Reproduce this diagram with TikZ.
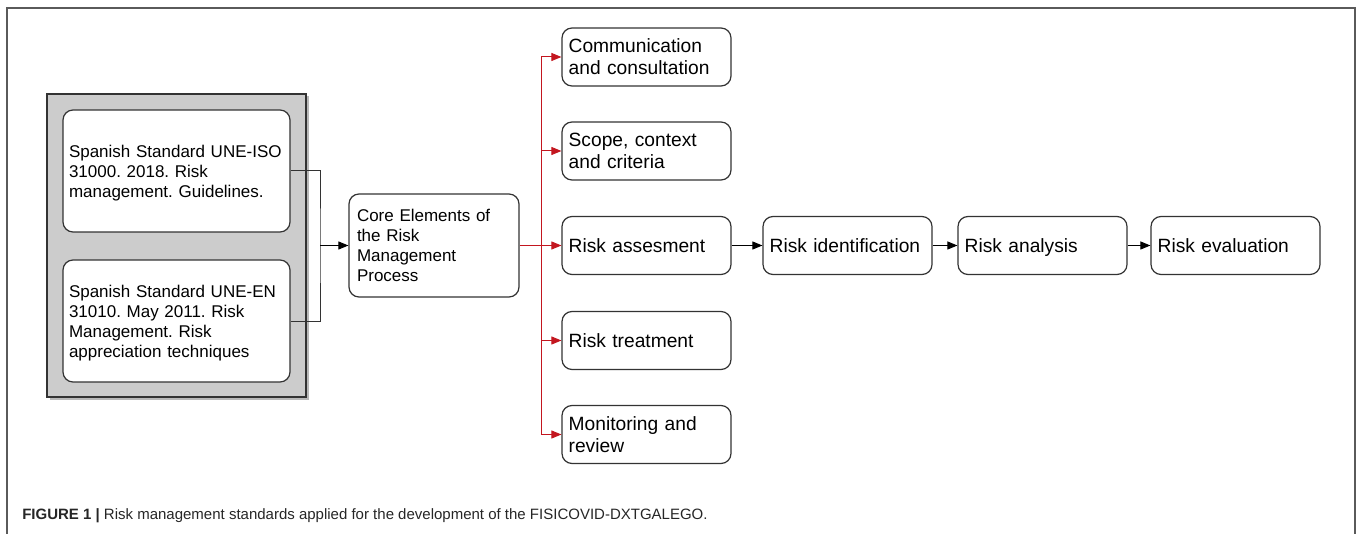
\documentclass[tikz,border=0pt]{standalone}
\usepackage{fontspec}
\setmainfont{Liberation Sans}
\usetikzlibrary{arrows.meta}
\frenchspacing
\definecolor{boxline}{HTML}{333333}
\definecolor{arrred}{HTML}{C3161F}
\definecolor{panelgray}{HTML}{CCCCCC}
\definecolor{framegray}{HTML}{5A5A5A}
\newcommand{\topstrut}{\vrule width 0pt height \dimexpr 0.716em+0.3\baselineskip\relax depth 0pt}
\newcommand{\botstrut}{\vrule width 0pt height 0pt depth 0.3\baselineskip}
\tikzset{
  stdbox/.style={draw=boxline, line width=0.9pt, fill=white, rounded corners=7.5pt,
    align=left, inner xsep=4.5pt, inner ysep=2pt, text width=161.25pt, minimum height=91.5pt,
    execute at begin node=\topstrut, execute at end node=\botstrut,
    font=\fontsize{12.75pt}{15pt}\selectfont},
  corebox/.style={stdbox, inner xsep=6pt, text width=115.5pt, minimum height=77.25pt},
  stepbox/.style={stdbox, inner xsep=5pt, text width=116.75pt, minimum height=43.5pt,
    font=\fontsize{14.4pt}{16.5pt}\selectfont},
  arr/.style={-{Triangle[length=7.5pt,width=6pt]}, line width=0.75pt, draw=black},
  redarr/.style={arr, draw=arrred}
}
\begin{document}
\begin{tikzpicture}[x=0.75pt, y=-0.75pt]
        \useasboundingbox (0,0) rectangle (1358,534);
        \draw[framegray, line width=1.1pt] (7,534) -- (7,8) -- (1355,8) -- (1355,534);

        \fill[gray!55] (49.5,96.5) rectangle (308.5,399.5);
        \draw[fill=panelgray, draw=boxline, line width=0.9pt] (47,94) rectangle (306,397);

        \node[stdbox] (iso) at (176.5,171) {Spanish Standard UNE-ISO\\31000. 2018. Risk\\management. Guidelines.};
        \node[stdbox] (en) at (176.5,321) {Spanish Standard UNE-EN\\31010. May 2011. Risk\\Management. Risk\\appreciation techniques};
        \node[corebox] (core) at (434,245.5) {Core Elements of\\the Risk\\Management\\Process};

        \node[stepbox] (comm) at (646.5,57) {Communication\\and consultation};
        \node[stepbox] (scope) at (646.5,151) {Scope, context\\and criteria};
        \node[stepbox] (assess) at (646.5,245.5) {Risk assesment};
        \node[stepbox] (treat) at (646.5,340.5) {Risk treatment};
        \node[stepbox] (mon) at (646.5,434.5) {Monitoring and\\review};

        \node[stepbox] (ident) at (847.5,245.5) {Risk identification};
        \node[stepbox] (anal) at (1042.5,245.5) {Risk analysis};
        \node[stepbox] (eval) at (1235.5,245.5) {Risk evaluation};

        \coordinate (join) at (320,245.5);
        \coordinate (bus) at (541,245.5);

        \draw[boxline, line width=0.75pt] (iso.east) -| (join) |- (en.east);
        \draw[arr] (join) -- (core.west);

        \draw[arrred, line width=0.75pt] (core.east) -- (bus);
        \draw[arrred, line width=0.75pt] (bus |- comm.west) -- (bus |- mon.west);
        \foreach \n in {comm,scope,assess,treat,mon}
            \draw[redarr] (bus |- \n.west) -- (\n.west);

        \foreach \a/\b in {assess/ident,ident/anal,anal/eval}
            \draw[arr] (\a) -- (\b);

        \node[anchor=base west, inner sep=0pt, text=black!85, font=\fontsize{11.25pt}{13pt}\selectfont] (caption) at (22,519)
            {\textbf{FIGURE 1 |} Risk management standards applied for the development of the FISICOVID-DXTGALEGO.};
    \end{tikzpicture}
\end{document}
